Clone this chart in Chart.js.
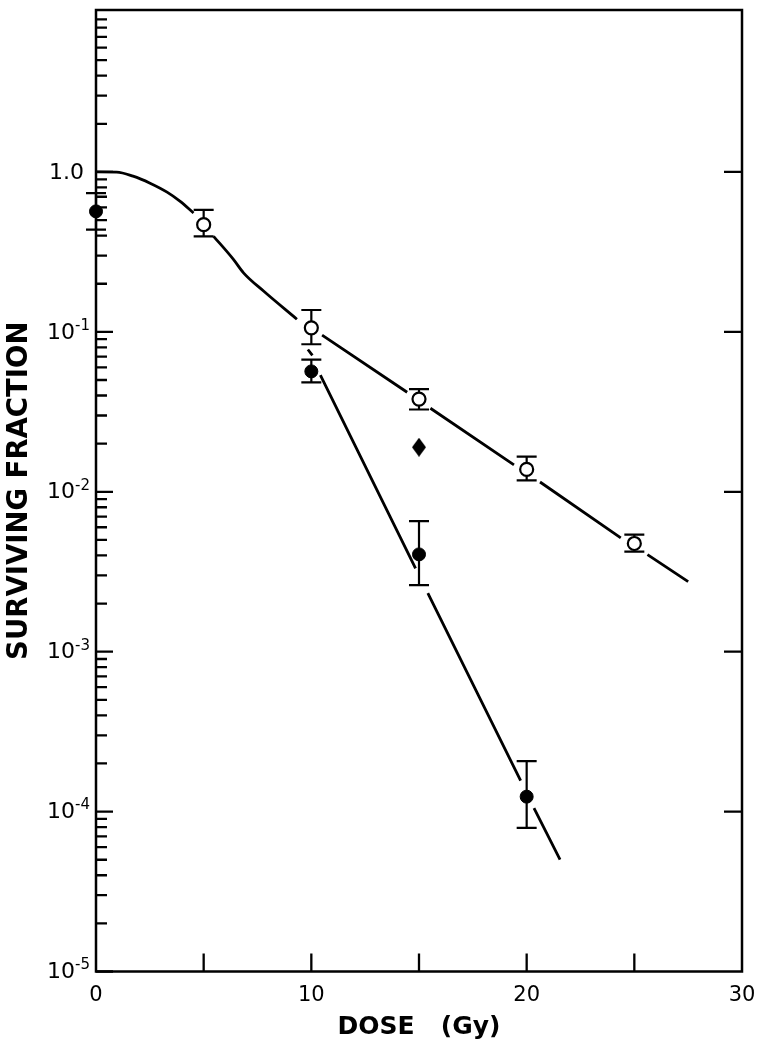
<!DOCTYPE html>
<html><head><meta charset="utf-8">
<script src="https://cdn.jsdelivr.net/npm/chart.js@4/dist/chart.umd.min.js"></script>
<style>html,body{margin:0;padding:0;background:#fff}#wrap{width:761px;height:1050px;position:relative}</style>
</head><body><div id="wrap"><canvas id="c" width="761" height="1050"></canvas></div>
<script>
// ---- data ----
const openDose = [5, 10, 15, 20, 25];
const openSF = [0.468, 0.106, 0.038, 0.0138, 0.00475];
const openLow = [0.396, 0.0837, 0.0327, 0.0118, 0.00422];
const openHigh = [0.58, 0.137, 0.0439, 0.0166, 0.0054];

const filledDose = [0, 10, 15, 20];
const filledSF = [0.567, 0.0566, 0.00406, 0.000124];
const filledLow = [0.436, 0.0483, 0.00261, 0.000079];
const filledHigh = [0.738, 0.067, 0.00655, 0.000207];

const diamondDose = [15];
const diamondSF = [0.019];

// shoulder curve (gap around the 5 Gy point)
const shoulderDose = [0, 0.96, 1.72, 2.51, 3.30, 3.91, 4.53, 5.0, 5.46, 6.39, 6.85, 7.78, 9.33];
const shoulderSF = [1.0, 0.998, 0.941, 0.851, 0.748, 0.655, 0.554, null, 0.396, 0.283, 0.234, 0.180, 0.120];

// shallow straight line (gaps at the markers)
const shallowDose = [10.50, 14.45, 15.0, 15.53, 19.41, 20.0, 20.62, 24.37, 25.0, 25.61, 27.50];
const shallowSF = [0.0953, 0.0419, null, 0.0333, 0.01475, null, 0.01151, 0.00515, null, 0.00405, 0.00274];

// steep straight line (gaps at the markers)
const steepDose = [9.84, 10.05, 10.2, 10.42, 14.84, 15.1, 15.41, 19.72, 20.0, 20.34, 21.55];
const steepSF = [0.0776, 0.0712, null, 0.0537, 0.00332, null, 0.00232, 0.000156, null, 0.000105, 0.000050];

const xTickValues = [0, 10, 20, 30];
const xTickLabels = ['0', '10', '20', '30'];
const xMinorTicks = [5, 10, 15, 20, 25];
const yTickValues = [1, 0.1, 0.01, 0.001, 0.0001, 0.00001];
const yTickBase = ['1.0', '10', '10', '10', '10', '10'];
const yTickExp = ['', '-1', '-2', '-3', '-4', '-5'];
const yRightTicks = [1, 0.1, 0.01, 0.001, 0.0001];

const pts = (xs, ys) => xs.map((x, i) => ({x: x, y: ys[i]}));

// elongated diamond marker
const dia = document.createElement('canvas');
dia.width = 14; dia.height = 19;
(function(){const g = dia.getContext('2d'); g.fillStyle = '#000'; g.beginPath();
  g.moveTo(7, 0); g.lineTo(14, 9.5); g.lineTo(7, 19); g.lineTo(0, 9.5); g.closePath(); g.fill();})();

const errorBars = {
  id: 'errorBars',
  beforeDatasetsDraw(chart) {
    const ctx = chart.ctx, xs = chart.scales.x, ys = chart.scales.y;
    ctx.save(); ctx.strokeStyle = '#000'; ctx.lineWidth = 2.2; ctx.lineCap = 'butt';
    const draw = (dose, lo, hi) => dose.forEach((d, i) => {
      const px = xs.getPixelForValue(d), yl = ys.getPixelForValue(lo[i]), yh = ys.getPixelForValue(hi[i]);
      ctx.beginPath();
      ctx.moveTo(px, yl); ctx.lineTo(px, yh);
      ctx.moveTo(px - 10, yl); ctx.lineTo(px + 10, yl);
      ctx.moveTo(px - 10, yh); ctx.lineTo(px + 10, yh);
      ctx.stroke();
    });
    draw(openDose, openLow, openHigh);
    draw(filledDose, filledLow, filledHigh);
    ctx.restore();
  }
};

const frame = {
  id: 'frame',
  afterDraw(chart) {
    const ctx = chart.ctx, a = chart.chartArea, xs = chart.scales.x, ys = chart.scales.y;
    ctx.save();
    ctx.strokeStyle = '#000'; ctx.lineWidth = 2.5; ctx.lineCap = 'butt';
    ctx.strokeRect(a.left, a.top, a.right - a.left, a.bottom - a.top);
    ctx.lineWidth = 2.3;
    ctx.beginPath();
    for (let d = -5; d <= 0; d++) {
      for (let m = 1; m <= 9; m++) {
        const v = m * Math.pow(10, d);
        if (v < ys.min || v > ys.max) continue;
        const py = ys.getPixelForValue(v);
        const len = m === 1 ? 17 : 11;
        ctx.moveTo(a.left, py); ctx.lineTo(a.left + len, py);
      }
    }
    yRightTicks.forEach(v => { const py = ys.getPixelForValue(v); ctx.moveTo(a.right, py); ctx.lineTo(a.right - 18, py); });
    xMinorTicks.forEach(v => { const px = xs.getPixelForValue(v); ctx.moveTo(px, a.bottom); ctx.lineTo(px, a.bottom - 18); });
    ctx.stroke();
    ctx.fillStyle = '#000';
    ctx.textBaseline = 'middle';
    yTickValues.forEach((v, i) => {
      const py = ys.getPixelForValue(v);
      if (yTickExp[i] === '') {
        ctx.font = '22px "DejaVu Sans"'; ctx.textAlign = 'right';
        ctx.fillText(yTickBase[i], 84, py + 1);
      } else {
        ctx.font = '15px "DejaVu Sans"'; ctx.textAlign = 'left';
        const sw = ctx.measureText(yTickExp[i]).width;
        const sx = 90 - sw;
        ctx.fillText(yTickExp[i], sx, py - 6);
        ctx.font = '22px "DejaVu Sans"'; ctx.textAlign = 'right';
        ctx.fillText(yTickBase[i], sx, py + 1);
      }
    });
    ctx.restore();
  }
};

const target = {left: 96, right: 742, top: 6, bottom: 971.5};
const pad = {top: 6, right: 19, left: 0, bottom: 0};

const chart = new Chart(document.getElementById('c'), {
  type: 'scatter',
  data: {
    datasets: [
      {label: 'open', data: pts(openDose, openSF), pointStyle: 'circle', pointRadius: 6.5, pointBackgroundColor: '#fff', pointBorderColor: '#000', pointBorderWidth: 2.2, order: 1, clip: false},
      {label: 'filled', data: pts(filledDose, filledSF), pointStyle: 'circle', pointRadius: 6.5, pointBackgroundColor: '#000', pointBorderColor: '#000', pointBorderWidth: 1, order: 1, clip: false},
      {label: 'diamond', data: pts(diamondDose, diamondSF), pointStyle: dia, pointRadius: 9, order: 1, clip: false},
      {label: 'shoulder', data: pts(shoulderDose, shoulderSF), showLine: true, spanGaps: false, pointRadius: 0, borderColor: '#000', borderWidth: 2.8, cubicInterpolationMode: 'monotone', order: 2, clip: false},
      {label: 'shallow', data: pts(shallowDose, shallowSF), showLine: true, spanGaps: false, pointRadius: 0, borderColor: '#000', borderWidth: 2.8, tension: 0, order: 2},
      {label: 'steep', data: pts(steepDose, steepSF), showLine: true, spanGaps: false, pointRadius: 0, borderColor: '#000', borderWidth: 2.8, tension: 0, order: 2}
    ]
  },
  options: {
    responsive: false,
    animation: false,
    devicePixelRatio: 1,
    layout: {padding: pad},
    plugins: {legend: {display: false}, tooltip: {enabled: false}},
    scales: {
      x: {
        type: 'linear', min: 0, max: 30,
        grid: {display: false}, border: {display: false},
        afterBuildTicks: s => { s.ticks = xTickValues.map(v => ({value: v})); },
        afterFit: s => { s.height = 78.5; },
        ticks: {color: '#000', font: {family: 'DejaVu Sans', size: 21}, padding: 3, maxRotation: 0,
          callback: (v) => { const i = xTickValues.indexOf(v); return i >= 0 ? xTickLabels[i] : ''; }},
        title: {display: true, text: 'DOSE   (Gy)', color: '#000', font: {family: 'DejaVu Sans', weight: 'bold', size: 25}, padding: {top: 0, bottom: 8}}
      },
      y: {
        type: 'logarithmic', min: 0.00001, max: 10.3,
        grid: {display: false}, border: {display: false},
        ticks: {display: false},
        afterFit: s => { s.width = 96; },
        title: {display: true, text: 'SURVIVING FRACTION', color: '#000', font: {family: 'DejaVu Sans', weight: 'bold', size: 27.5}, padding: {top: 3.5, bottom: 0}}
      }
    }
  },
  plugins: [errorBars, frame]
});

// nudge layout padding so the plot frame lands where the reference has it
for (let k = 0; k < 3; k++) {
  const a = chart.chartArea;
  const dr = a.right - target.right, dt = target.top - a.top, db = a.bottom - target.bottom, dl = target.left - a.left;
  if (Math.abs(dr) < 0.3 && Math.abs(dt) < 0.3 && Math.abs(db) < 0.3 && Math.abs(dl) < 0.3) break;
  pad.right = Math.max(0, pad.right + dr);
  pad.top = Math.max(0, pad.top + dt);
  pad.bottom = Math.max(0, pad.bottom + db);
  pad.left = Math.max(0, pad.left + dl);
  chart.options.layout.padding = Object.assign({}, pad);
  chart.update();
}
</script>
</body></html>
